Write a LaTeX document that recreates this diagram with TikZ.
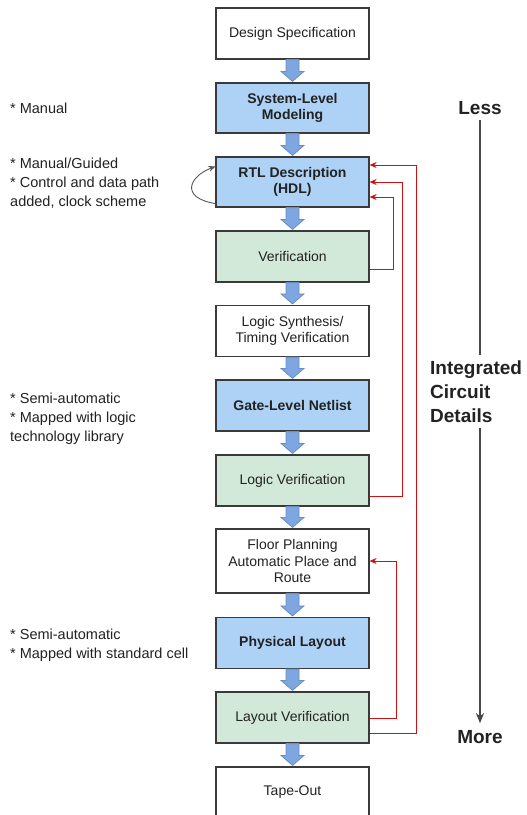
\documentclass[tikz,border=0pt]{standalone}
\usepackage{fontspec}
\setmainfont{Liberation Sans}
\usetikzlibrary{arrows.meta,calc}

\definecolor{stagefill}{HTML}{ADD2F5}
\definecolor{checkfill}{HTML}{D2E8D8}
\definecolor{boxline}{HTML}{3A3A3A}
\definecolor{flowfill}{HTML}{7EA6E0}
\definecolor{flowline}{HTML}{6C8EBF}
\definecolor{loopred}{HTML}{CC1111}
\definecolor{inktext}{HTML}{222222}

\tikzset{
  stagebox/.style={draw=boxline, line width=1.2pt, minimum width=153pt,
    minimum height=51pt, align=center, text=inktext, inner sep=2pt,
    font=\fontsize{14}{16.5}\selectfont},
  plainbox/.style={stagebox, fill=white},
  bluebox/.style={stagebox, fill=stagefill, font=\fontsize{14}{16.5}\selectfont\bfseries},
  greenbox/.style={stagebox, fill=checkfill},
  blockarrow/.style={fill=flowfill, draw=flowline, line width=0.8pt, line join=miter},
  feedback/.style={draw=loopred, line width=0.9pt, -{Stealth[length=7pt,width=6pt]}},
  note/.style={anchor=north west, align=left, inner sep=0pt, text=inktext,
    font=\fontsize{14.5}{19}\selectfont},
  axislabel/.style={inner sep=0pt, text=inktext, font=\fontsize{19}{24}\selectfont\bfseries},
  axisline/.style={draw=black!72, line width=1.6pt},
}

% fat arrow between two stacked stages
\newcommand\flowarrow[2]{%
  \draw[blockarrow] ($(#1.south)+(-6.5,0)$) -- ($(#2.north)+(-6.5,-11)$)
    -- ($(#2.north)+(-11.5,-11)$) -- ($(#2.north)+(0,-1)$)
    -- ($(#2.north)+(11.5,-11)$) -- ($(#2.north)+(6.5,-11)$)
    -- ($(#1.south)+(6.5,0)$) -- cycle;}

\begin{document}
\begin{tikzpicture}[x=1pt,y=-1pt]
\clip (0,0) rectangle (527,815);
\fill[white] (0,0) rectangle (527,815);

% design flow stages
\node[plainbox] (spec) at (292.5,33.5) {Design Specification};
\node[bluebox, minimum height=50pt] (sysm) at (292.5,108) {System-Level\\Modeling};
\node[bluebox, minimum height=50pt] (rtl) at (292.5,182) {RTL Description\\(HDL)};
\node[greenbox] (ver) at (292.5,256.5) {Verification};
\node[plainbox] (synth) at (292.5,331) {Logic Synthesis/\\Timing Verification};
\node[bluebox] (gate) at (292.5,405.5) {Gate-Level Netlist};
\node[greenbox] (lver) at (292.5,480.5) {Logic Verification};
\node[plainbox, minimum height=64pt] (floor) at (292.5,561) {Floor Planning\\Automatic Place and\\Route};
\node[bluebox] (phys) at (292.5,643) {Physical Layout};
\node[greenbox] (layv) at (292.5,717.5) {Layout Verification};
\node[plainbox] (tape) at (292.5,792.5) {Tape-Out};

\flowarrow{spec}{sysm}
\flowarrow{sysm}{rtl}
\flowarrow{rtl}{ver}
\flowarrow{ver}{synth}
\flowarrow{synth}{gate}
\flowarrow{gate}{lver}
\flowarrow{lver}{floor}
\flowarrow{floor}{phys}
\flowarrow{phys}{layv}
\flowarrow{layv}{tape}

% iteration loops back to earlier stages
\draw[feedback] ([yshift=-12.5pt]ver.east) -| ([xshift=24pt,yshift=-15pt]rtl.east) -- ([yshift=-15pt]rtl.east);
\draw[feedback] ([yshift=-15.5pt]lver.east) -| ([xshift=33pt]rtl.east) -- (rtl.east);
\draw[feedback] ([yshift=-15.5pt]layv.east) -| ([xshift=47pt,yshift=17pt]rtl.east) -- ([yshift=17pt]rtl.east);
\draw[feedback] ([yshift=-0.5pt]layv.east) -| ([xshift=27pt]floor.east) -- (floor.east);

% self loop on the RTL stage
\draw[draw=black!65, line width=0.9pt, -{Stealth[length=7pt,width=6pt]}]
  ([yshift=4pt]rtl.south west) .. controls +(-36,-6) and +(-26,10) .. ([yshift=-10pt]rtl.north west);

% side notes
\node[note] (n1) at (10,102.6) {* Manual};
\node[note] (n2) at (10,157.6) {* Manual/Guided\\* Control and data path\\added, clock scheme};
\node[note] (n3) at (10,392.6) {* Semi-automatic\\* Mapped with logic\\technology library};
\node[note] (n4) at (10,628.6) {* Semi-automatic\\* Mapped with standard cell};

% level-of-detail axis
\node[axislabel] (less) at (480,108) {Less};
\node[axislabel] (more) at (480,737) {More};
\node[axislabel, anchor=north west, align=left] (icd) at (430,361) {Integrated\\Circuit\\Details};
\draw[axisline] ([yshift=-5pt]less.south) -- ([yshift=6pt]icd.north -| less.south);
\draw[axisline, -{Stealth[length=10pt,width=8pt,inset=3pt]}] ([yshift=-5pt]icd.south -| less.south) -- ([yshift=7pt]more.north);
\end{tikzpicture}
\end{document}
